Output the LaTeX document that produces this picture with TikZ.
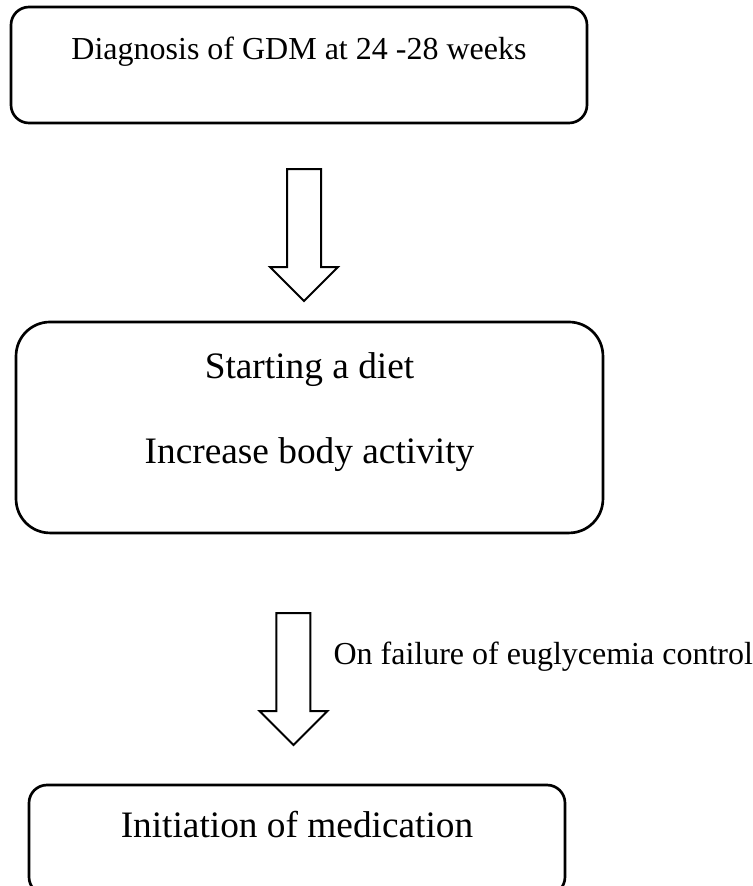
\documentclass[tikz,border=0pt]{standalone}
\usepackage{fontspec}
\setmainfont{Liberation Serif}
\usepackage{tikz}
\usetikzlibrary{shapes.arrows}

\begin{document}
\begin{tikzpicture}[
    stage/.style={rectangle, draw, line width=1pt, inner sep=0pt},
    fatarrow/.style={single arrow, draw, line width=0.75pt, rotate=-90, inner sep=6pt,
        single arrow head extend=6.375pt, single arrow tip angle=90,
        minimum height=49.5pt, minimum width=24.75pt, anchor=tail},
    smalltext/.style={font=\fontsize{12}{14}\selectfont, inner sep=0pt},
    bigtext/.style={font=\fontsize{14}{17}\selectfont, inner sep=0pt}
]
\path[use as bounding box, clip] (0,0) rectangle (282.375pt,-332.25pt);

\node[stage, rounded corners=6.75pt, minimum width=216pt, minimum height=43.5pt] (diagnosis) at (112.125pt,-24.375pt) {};
\node[smalltext, anchor=base] (diagnosistext) at (112.125pt,-22.125pt) {Diagnosis of GDM at 24 -28 weeks};

\node[fatarrow] (arrowdiet) at (114pt,-63pt) {};

\node[stage, rounded corners=12.75pt, minimum width=220.1pt, minimum height=79.1pt] (lifestyle) at (116.06pt,-160.3pt) {};
\node[bigtext, anchor=base] (diettext) at (116.06pt,-141.75pt) {Starting a diet};
\node[bigtext, anchor=base] (activitytext) at (116.06pt,-173.625pt) {Increase body activity};

\node[fatarrow] (arrowmed) at (110.06pt,-229.5pt) {};
\node[smalltext, anchor=base west] (failuretext) at (124.875pt,-249pt) {On failure of euglycemia control};

\node[stage, rounded corners=6.75pt, minimum width=201pt, minimum height=41.25pt] (medication) at (111.375pt,-315pt) {};
\node[bigtext, anchor=base] (medicationtext) at (111.375pt,-313.875pt) {Initiation of medication};

\end{tikzpicture}
\end{document}
